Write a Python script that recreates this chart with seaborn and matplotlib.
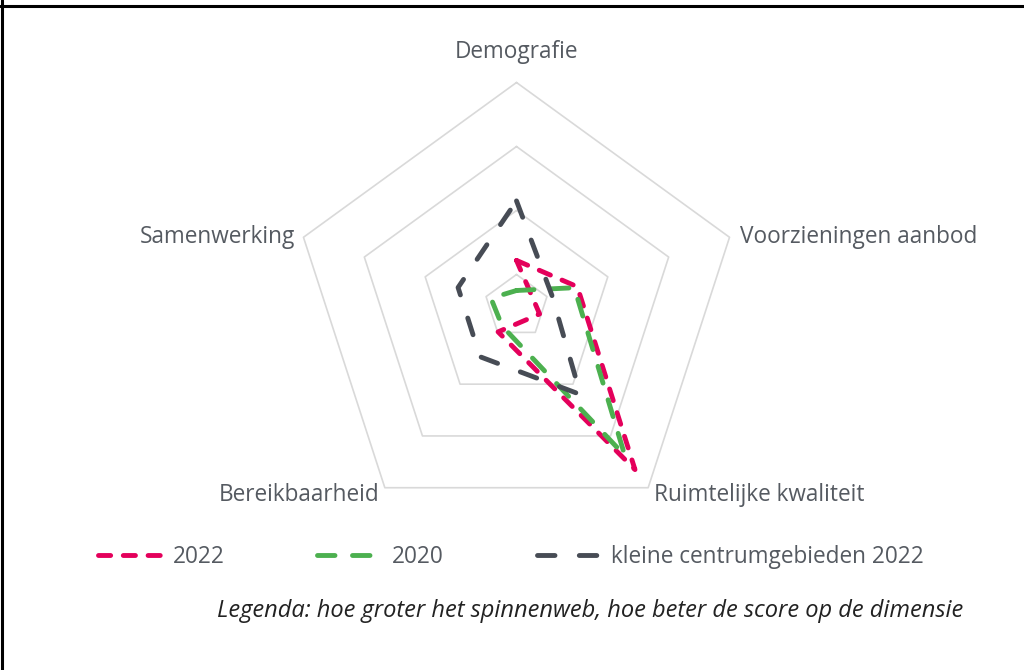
import numpy as np
import pandas as pd
import matplotlib
matplotlib.use("Agg")
import matplotlib.pyplot as plt
from matplotlib.lines import Line2D
import seaborn as sns

# dimensions (clockwise from the top)
categories = ["Demografie", "Voorzieningen aanbod", "Ruimtelijke kwaliteit",
              "Bereikbaarheid", "Samenwerking"]
series_names = ["2022", "2020", "kleine centrumgebieden 2022"]
score_2022 = [-0.78, -0.50, 1.65, -1.01, -1.88]
score_2020 = [-1.25, -0.55, 1.38, -1.12, -1.08]
score_klein = [0.15, -0.92, 0.20, -0.53, -0.54]
grid_levels = [-1, 0, 1, 2]
r_min = -1.5

colors = {"2022": "#e4005b", "2020": "#4cb04f", "kleine centrumgebieden 2022": "#474c55"}
dash_patterns = {"2022": (2.5, 2.6), "2020": (3.6, 3.6), "kleine centrumgebieden 2022": (3.6, 5.0)}
text_color = "#555a61"

sns.set_theme(style="white")
plt.rcParams["font.family"] = ["Open Sans", "DejaVu Sans"]

angles = np.deg2rad(90 - 72 * np.arange(len(categories)))


def to_xy(values):
    # radar radius measured from the axis minimum; values below it end up
    # on the opposite side of the centre, like the original chart
    r = np.asarray(values, dtype=float) - r_min
    r = np.append(r, r[0])
    a = np.append(angles, angles[0])
    return r * np.cos(a), r * np.sin(a)


px = 64.0  # pixels per unit
cx, cy = 516.5, 306.5
fig = plt.figure(figsize=(10.24, 6.70), dpi=100)
ax = fig.add_axes([0, 0, 1, 1])
ax.set_xlim(-cx / px, (1024 - cx) / px)
ax.set_ylim(-(670 - cy) / px, cy / px)
ax.set_aspect("equal")
ax.axis("off")

# web
for lvl in grid_levels:
    gx, gy = to_xy([lvl] * len(categories))
    ax.plot(gx, gy, color="#d9d9d9", lw=1.2, zorder=1)

rows = []
for name, vals in zip(series_names, [score_2022, score_2020, score_klein]):
    x, y = to_xy(vals)
    for i, (xi, yi) in enumerate(zip(x, y)):
        rows.append({"serie": name, "punt": i, "x": xi, "y": yi})
df = pd.DataFrame(rows)

for name in series_names:
    sub = df[df["serie"] == name]
    sns.lineplot(data=sub, x="x", y="y", sort=False, estimator=None, ax=ax,
                 color=colors[name], lw=3.5, linestyle=(0, dash_patterns[name]),
                 dash_capstyle="round", label=name, legend=False, zorder=3)
ax.set_xlabel("")
ax.set_ylabel("")

# category labels
vx, vy = to_xy([grid_levels[-1]] * len(categories))
label_style = [((0, 30), "center"), ((10, 0), "left"), ((6, -7), "left"),
               ((-5, -7), "right"), ((-8, 0), "right")]
for i, cat in enumerate(categories):
    off, ha = label_style[i]
    ax.annotate(cat, xy=(vx[i], vy[i]), xytext=off, textcoords="offset pixels",
                ha=ha, va="center", fontsize=16.3, color=text_color)

handles, labels = ax.get_legend_handles_labels()
fig.legend(handles, labels, loc="center left", bbox_to_anchor=(98 / 1024, 1 - 557 / 670),
           ncol=3, frameon=False, fontsize=16.3, handlelength=2.8, handletextpad=0.5,
           columnspacing=4.1, borderpad=0, borderaxespad=0, labelcolor=text_color)

fig.text(590 / 1024, 1 - 611 / 670,
         "Legenda: hoe groter het spinnenweb, hoe beter de score op de dimensie",
         ha="center", va="center", fontsize=17, style="italic", color="#222222")

# frame lines of the original picture
fig.add_artist(Line2D([1.5 / 1024, 1.5 / 1024], [0, 1], transform=fig.transFigure,
                      color="black", lw=2.2))
fig.add_artist(Line2D([0, 1], [1 - 5.5 / 670, 1 - 5.5 / 670], transform=fig.transFigure,
                      color="black", lw=2.2))

fig.savefig("out.png", dpi=100, facecolor="white")
